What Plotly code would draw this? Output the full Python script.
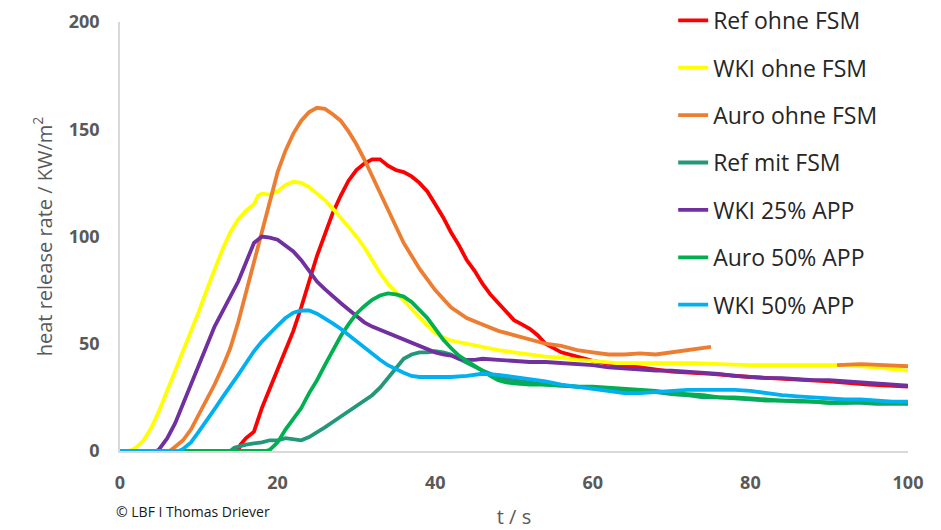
import plotly.graph_objects as go

# ---- data ----
names = ["Ref ohne FSM", "WKI ohne FSM", "Auro ohne FSM", "Ref mit FSM",
         "WKI 25% APP", "Auro 50% APP", "WKI 50% APP"]
colors = ["#FF0000", "#FFFF00", "#ED7D31", "#22977A", "#7030A0", "#00B050", "#00B0F0"]

t_ref_ohne = [0, 15, 15.3, 16, 17, 18, 19, 20, 21, 22, 23, 24, 25, 26, 27, 28, 29, 30, 31, 32, 33,
              34, 35, 36, 37, 38, 39, 40, 41, 42, 43, 44, 45, 46, 47, 48, 49, 50, 51, 52, 53, 54,
              56, 58, 60, 63, 66, 70, 75, 80, 85, 90, 95, 100]
v_ref_ohne = [0, 0, 3, 6, 9, 20, 29, 38, 47, 56, 67, 79, 91, 101, 111, 119, 126, 131, 134, 136, 136,
              133, 131, 130, 128, 125, 121, 115, 109, 102, 96, 89, 84, 78, 73, 69, 65, 61, 59, 57, 54, 50,
              46, 44, 42, 40, 39, 37, 36, 34.5, 33.5, 32.5, 31, 30]

t_wki_ohne = [0, 1, 1.5, 2, 3, 4, 5, 6, 7, 8, 9, 10, 11, 12, 13, 14, 15, 16, 17, 17.5, 18, 19, 20,
              21, 22, 23, 24, 25, 26, 27, 28, 29, 30, 31, 32, 33, 34, 35, 36, 37, 38, 39, 40, 41, 42,
              44, 46, 48, 50, 52, 54, 56, 58, 60, 63, 66, 70, 73, 76, 80, 84, 88, 92, 96, 100]
v_wki_ohne = [0, 0, 0.5, 1.5, 5, 11, 19, 28, 37, 46, 55, 65, 75, 85, 94, 102, 108, 112, 115, 119, 120, 119.5, 121,
              124, 125.5, 125, 123, 120, 117, 113, 109, 104.5, 100, 95, 89, 83, 78, 74, 70, 66, 62, 58.5, 55, 53, 51.5,
              50, 48.5, 47, 46, 45, 44, 43.5, 42.5, 42, 41, 41, 41, 41, 40.5, 40, 40, 40, 40, 39, 37.5]

t_auro_ohne = [0, 6.3, 7, 8, 9, 10, 11, 12, 13, 14, 15, 16, 17, 18, 19, 20, 21, 22, 23, 24, 25, 26, 27,
               28, 29, 30, 31, 32, 33, 34, 35, 36, 37, 38, 39, 40, 42, 44, 46, 48, 50, 52, 54, 56, 58,
               60, 62, 64, 66, 68, 70, 72, 74, 75, 83, 91, 94, 97, 100]
v_auro_ohne = [0, 0, 2, 5, 10, 17, 24, 31, 39, 48, 60, 74, 87, 101, 115, 130, 140, 148, 154, 158, 160, 159.5, 157,
               154, 149, 143, 136, 128, 121, 112, 104, 97, 91, 85, 80, 75, 67, 62, 59, 56, 54, 52, 50, 49, 47,
               46, 45, 45, 45.5, 45, 46, 47, 48, 48.5, None, 40, 40.5, 40, 39.5]

t_ref_mit = [0, 14, 14.5, 15, 16, 17, 18, 19, 20, 21, 22, 23, 24, 25, 26, 27, 28, 29, 30, 31, 32, 33,
             34, 35, 36, 37, 38, 39, 40, 41, 42, 43, 44, 45, 46, 47, 48, 49, 50, 52, 54, 56, 58, 60,
             62, 64, 66, 68, 70, 72, 74, 76, 78, 80, 82, 84, 86, 88, 90, 92, 94, 96, 98, 100]
v_ref_mit = [0, 0, 1.5, 2, 3, 3.5, 4, 5, 5, 6, 5.5, 5, 6.5, 8.5, 11, 13.5, 16, 18.5, 21, 23.5, 26, 29.5,
             34, 39, 43, 45, 46, 46, 46.5, 46, 45, 43, 41, 39.5, 37.5, 36, 34.5, 33.5, 33, 32, 31, 30.5, 30, 29.5,
             29, 28.5, 28, 27.5, 26.5, 26, 25, 25, 24.5, 24, 23.5, 23.5, 23, 23, 22.5, 22.5, 22.5, 22, 22, 22]

t_wki_25 = [0, 4.7, 5, 6, 7, 8, 9, 10, 11, 12, 13, 14, 15, 16, 17, 18, 19, 20, 21, 22, 23, 24, 25,
            26, 27, 28, 29, 30, 31, 32, 33, 34, 35, 36, 37, 38, 39, 40, 41, 42, 43, 44, 45, 46, 48,
            50, 52, 54, 56, 58, 60, 62, 64, 66, 68, 70, 72, 74, 76, 78, 80, 82, 84, 86, 88, 90, 92,
            94, 96, 98, 100]
v_wki_25 = [0, 0, 1, 6, 13, 22, 31, 40, 50, 58, 65, 72, 79, 88, 97, 100, 99.5, 98.5, 96, 93, 89, 84, 79,
            75.5, 72, 69, 66, 63, 60, 58, 56.5, 55, 53.5, 52, 50.5, 49, 47.5, 46, 45, 44.5, 43, 42.5, 42.5, 43, 42.5,
            42, 41.5, 41.5, 41, 40.5, 40, 39, 38.5, 38, 37.5, 37.5, 37, 36.5, 36, 35, 34.5, 34, 34, 33.5, 33, 33, 32.5,
            32, 31.5, 31, 30.5]

t_auro_50 = [0, 18.5, 19, 20, 21, 22, 23, 24, 25, 26, 27, 28, 29, 30, 31, 32, 33, 34, 35, 36, 37, 38,
             39, 40, 41, 42, 43, 44, 45, 46, 47, 48, 49, 50, 52, 54, 56, 58, 60, 62, 64, 66, 68, 70,
             72, 74, 76, 78, 80, 82, 84, 86, 88, 90, 92, 94, 96, 98, 100]
v_auro_50 = [0, 0, 0.5, 4, 10, 15, 20, 27, 33, 40, 47, 53.5, 59, 64, 67.5, 70.5, 72.5, 73.5, 73, 72, 69.5, 66,
             62, 57, 52, 48, 44.5, 42, 39.5, 37.5, 35, 33, 32, 31.5, 31, 31, 30.5, 30, 30, 29.5, 29, 28.5, 28, 27,
             26.5, 26, 25, 25, 24.5, 24, 23.5, 23.5, 23, 22.5, 22.5, 23, 22.5, 22.5, 22.5]

t_wki_50 = [0, 7.5, 8, 9, 10, 11, 12, 13, 14, 15, 16, 17, 18, 19, 20, 21, 22, 23, 24, 25, 26, 27, 28,
            29, 30, 31, 32, 33, 34, 35, 36, 37, 38, 40, 42, 44, 46, 48, 50, 52, 54, 56, 58, 60, 62,
            64, 66, 68, 70, 72, 74, 76, 78, 80, 82, 84, 86, 88, 90, 92, 94, 96, 98, 100]
v_wki_50 = [0, 0, 1, 4, 9, 14, 19.5, 25, 30, 35.5, 41, 46.5, 51, 55, 58.5, 62, 64.5, 65.5, 65.5, 64, 62, 59.5, 57,
            54, 51, 48, 45, 42.5, 40, 38, 36.5, 35, 34.5, 34.5, 34.5, 35, 36, 35.5, 34.5, 33.5, 32.5, 31, 30, 29, 28,
            27, 27, 27.5, 28, 28.5, 28.5, 28.5, 28.5, 28, 27, 26, 25.5, 25, 24.5, 24, 24, 23.5, 23, 23]

series_t = [t_ref_ohne, t_wki_ohne, t_auro_ohne, t_ref_mit, t_wki_25, t_auro_50, t_wki_50]
series_v = [v_ref_ohne, v_wki_ohne, v_auro_ohne, v_ref_mit, v_wki_25, v_auro_50, v_wki_50]

x_ticks = [0, 20, 40, 60, 80, 100]
y_ticks = [0, 50, 100, 150, 200]

fig = go.Figure()
for i, (n, c, tt, vv) in enumerate(zip(names, colors, series_t, series_v)):
    fig.add_trace(go.Scatter(x=tt, y=vv, mode="lines", name=n, legendgroup=f"g{i}",
                             line=dict(color=c, width=3.8), connectgaps=False))

axis_gray = "#595959"
fig.update_layout(
    width=941, height=530,
    margin=dict(l=120, r=33, t=22, b=79, autoexpand=False),
    plot_bgcolor="white", paper_bgcolor="white",
    font=dict(family="Open Sans", color=axis_gray),
    xaxis=dict(range=[0, 100], tickvals=x_ticks, showgrid=False, zeroline=False,
               showline=True, linecolor="#D9D9D9", linewidth=1.5, ticks="",
               ticklabelstandoff=15, automargin=False,
               tickfont=dict(family="Open Sans", size=18, color=axis_gray, weight="bold"),
               title=dict(text="t / s", font=dict(size=20, color=axis_gray), standoff=18)),
    yaxis=dict(range=[0, 200], tickvals=y_ticks, showgrid=False, zeroline=False,
               showline=True, linecolor="#D9D9D9", linewidth=1.5, ticks="",
               ticklabelstandoff=15, automargin=False,
               tickfont=dict(family="Open Sans", size=18, color=axis_gray, weight="bold"),
               title=dict(text="heat release rate / KW/m<sup>2</sup>",
                          font=dict(size=20, color=axis_gray), standoff=11)),
    legend=dict(x=0.702, y=1.054, xanchor="left", yanchor="top",
                font=dict(family="Open Sans", size=23, color="#262626"),
                tracegroupgap=14.5, bgcolor="rgba(0,0,0,0)", itemwidth=30,
                maxheight=530),
    showlegend=True,
)
fig.add_annotation(text="© LBF I Thomas Driever", xref="paper", yref="paper",
                   x=-0.008, y=-0.14, xanchor="left", yanchor="middle", showarrow=False,
                   font=dict(family="Open Sans", size=14, color="#1a1a1a"))

# remove the browser's default 8 px body margin so the figure fills the window exactly
fig.write_html("out.html", config={"displayModeBar": False},
               post_script="document.body.style.margin='0px';")
